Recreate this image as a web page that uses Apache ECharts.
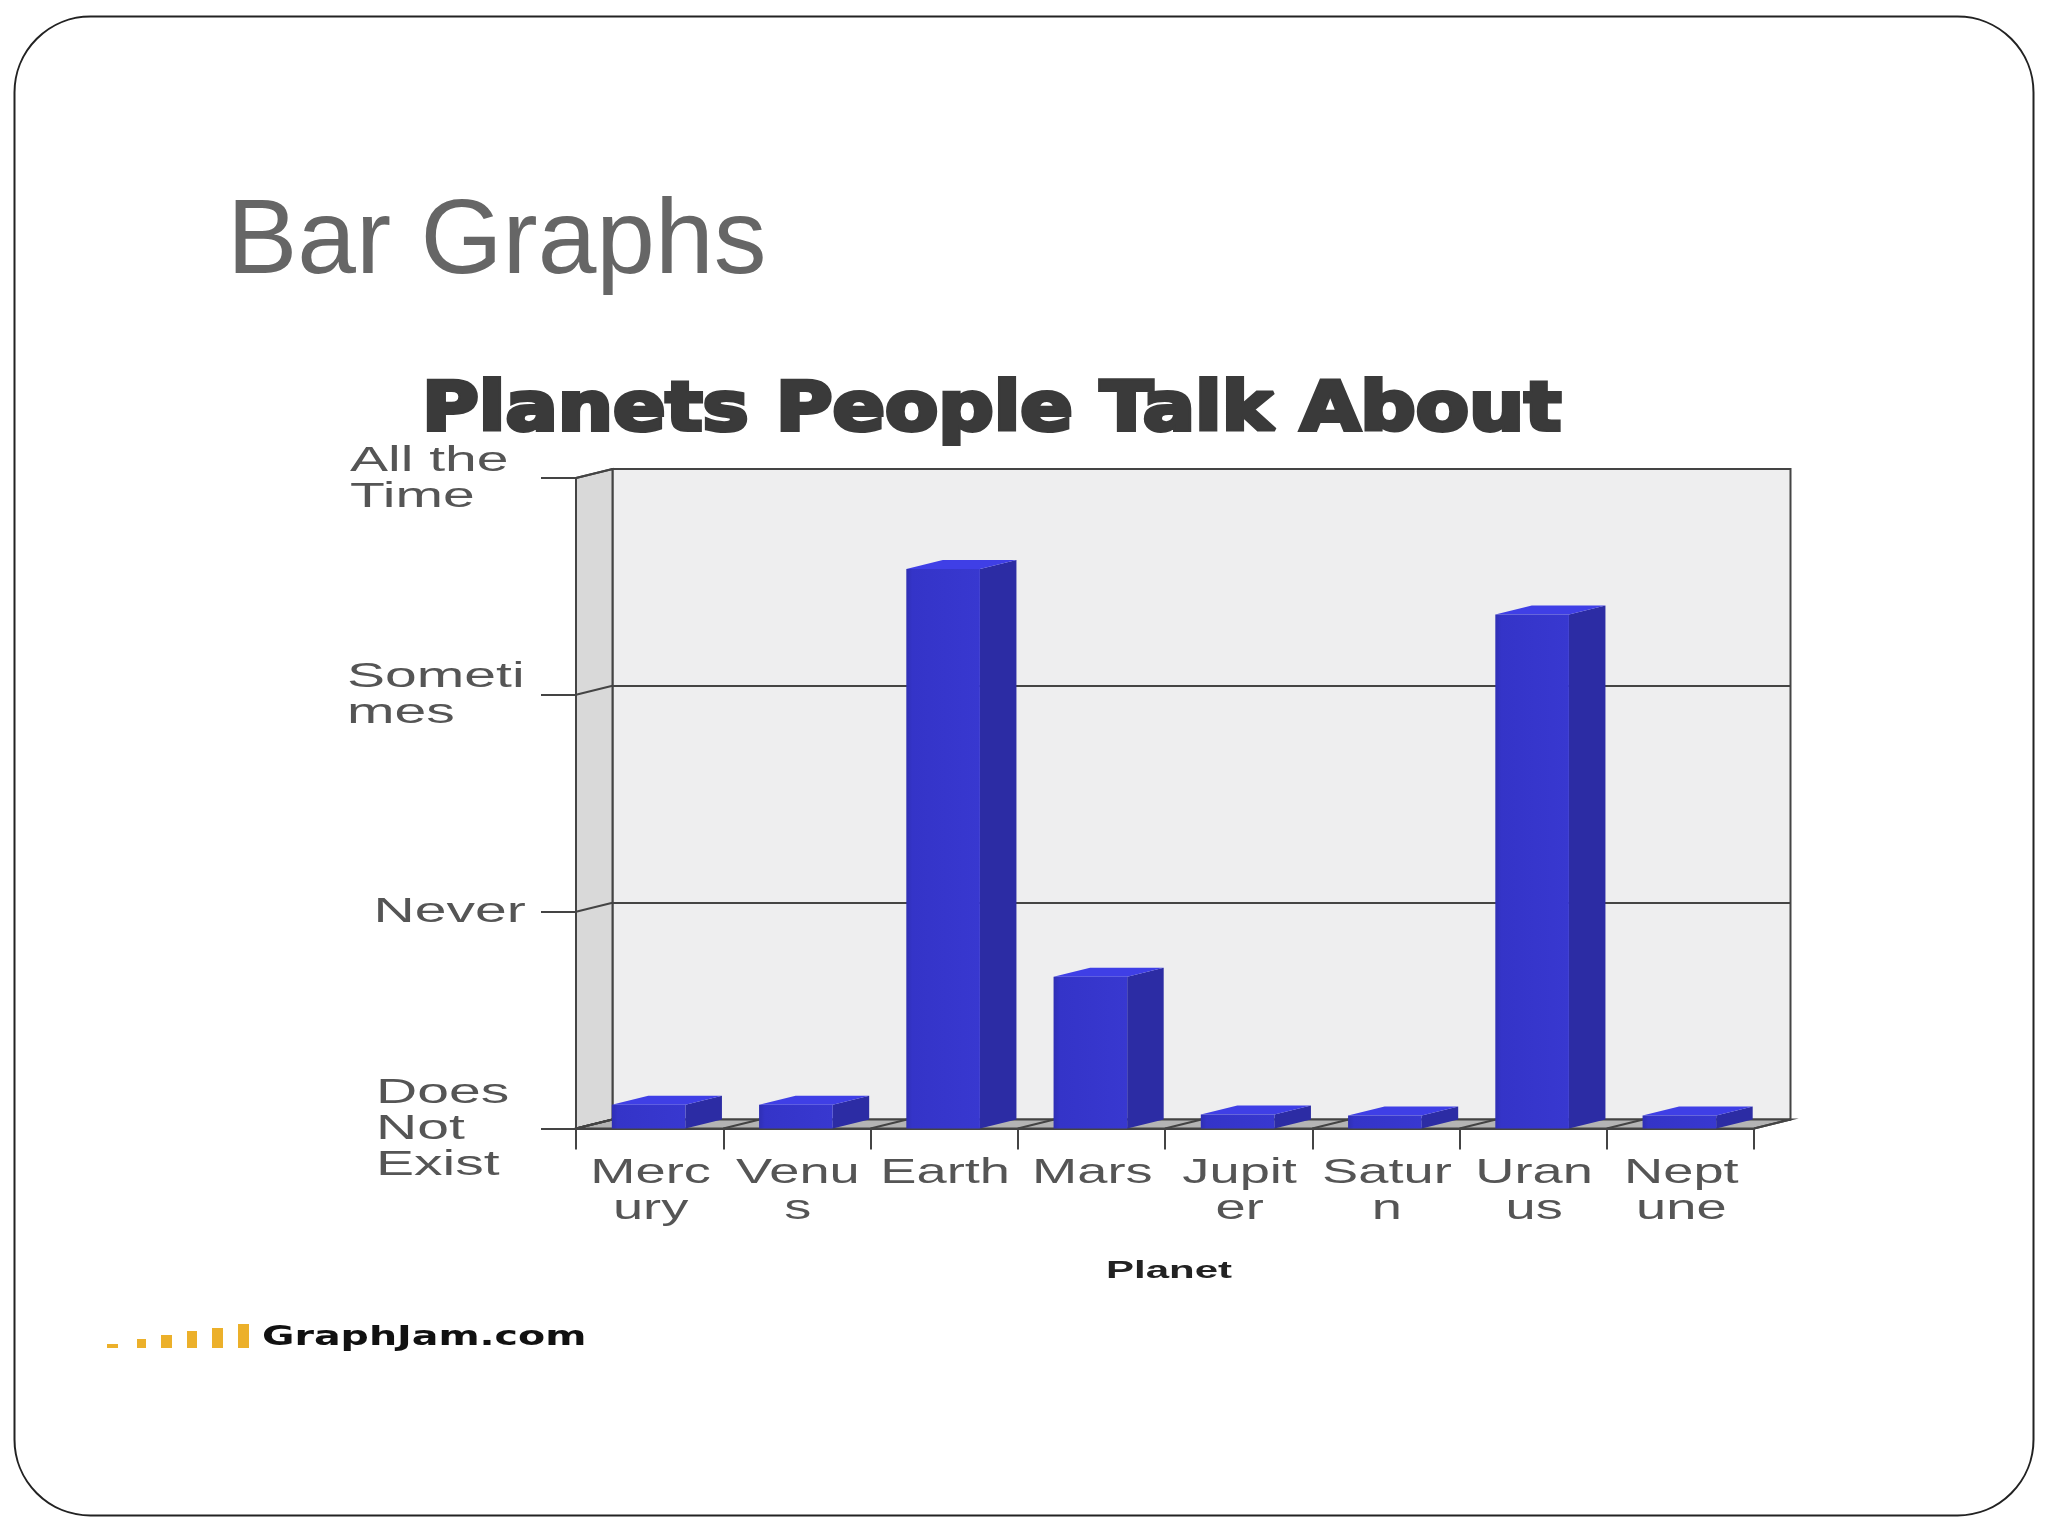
<!DOCTYPE html>
<html>
<head>
<meta charset="utf-8">
<style>html,body{margin:0;padding:0;background:#fff}#c{width:2048px;height:1536px}</style>
<script src="https://cdn.jsdelivr.net/npm/echarts@6/dist/echarts.min.js"></script>
</head>
<body>
<div id="c"></div>
<script>
const slideTitle = 'Bar Graphs';
const chartTitle = 'Planets People Talk About';
const xName = 'Planet';
const logoText = 'GraphJam.com';
const planets = ['Merc\nury','Venu\ns','Earth','Mars','Jupit\ner','Satur\nn','Uran\nus','Nept\nune'];
const mentions = [0.11,0.11,2.58,0.70,0.065,0.06,2.37,0.06];
const yTicks = [0,1,2,3];
const yTickLabels = ['Does\nNot\nExist','Never','Someti\nmes','All the\nTime'];
const logoBars = [4,9,13,17,20,24];

// layout
const G = {left:576, top:478, width:1178, height:650.5};
const DX = 36.5, DY = 9;
const LBL = {font:'"Liberation Sans",Arial,sans-serif', size:35, color:'#555', lh:36};
const yLabelLeft = [376,373.5,347,350];
const INK = '#444';

const chart = echarts.init(document.getElementById('c'), null, {renderer:'canvas'});

function wallsItem(params){
  const c = params.coordSys;
  const L=c.x, R=c.x+c.width, T=c.y, B=c.y+c.height;
  const kids = [
    {type:'polygon',shape:{points:[[L,T],[L+DX,T-DY],[L+DX,B-DY],[L,B]]},style:{fill:'#d9d9d9',stroke:INK,lineWidth:2}},
    {type:'polygon',shape:{points:[[L,B],[L+DX,B-DY],[R+DX,B-DY],[R,B]]},style:{fill:'#b4b4b4',stroke:INK,lineWidth:2}}
  ];
  for(const t of yTicks){
    const y = chart.convertToPixel({yAxisIndex:0},t);
    kids.push({type:'line',shape:{x1:L,y1:y,x2:L+DX,y2:y-DY},style:{stroke:INK,lineWidth:2}});
  }
  const step=c.width/planets.length;
  for(let i=0;i<=planets.length;i++){
    const x=L+i*step;
    kids.push({type:'line',shape:{x1:x,y1:B,x2:x+DX,y2:B-DY},style:{stroke:INK,lineWidth:2}});
  }
  return {type:'group',children:kids};
}
function barItem(params,api){
  const i=api.value(0), v=api.value(1);
  const top=api.coord([i,v]), base=api.coord([i,0]);
  const w=api.size([1,0])[0]*0.5;
  const l=top[0]-w/2-1, r=l+w, t=top[1], b=base[1];
  return {type:'group',children:[
    {type:'polygon',shape:{points:[[r,t],[r+DX,t-DY],[r+DX,b-DY],[r,b]]},style:{fill:'#2c2ca4'}},
    {type:'polygon',shape:{points:[[l,t],[l+DX,t-DY],[r+DX,t-DY],[r,t]]},style:{fill:'#3f3fe6'}},
    {type:'rect',shape:{x:l,y:t,width:w,height:b-t},style:{fill:new echarts.graphic.LinearGradient(0,0,1,0,[
      {offset:0,color:'#2f2fb4'},{offset:0.08,color:'#3434c8'},{offset:1,color:'#3838d0'}])}}
  ]};
}
function lineTexts(text,x,y0,align,scale){
  return text.split('\n').map((s,k)=>({type:'text',x:x,y:y0+k*LBL.lh,scaleX:scale,
    style:{text:s,fontFamily:LBL.font,fontSize:LBL.size,fill:LBL.color,align:align,verticalAlign:'middle'}}));
}
function yLabelItem(params,api){
  const idx=api.value(0), v=api.value(1);
  const p=api.coord([0,v]);
  const n=yTickLabels[idx].split('\n').length;
  return {type:'group',children:lineTexts(yTickLabels[idx],yLabelLeft[idx],p[1]+1-(n-1)*LBL.lh/2,'left',1.63)};
}
function xLabelItem(params,api){
  const i=api.value(0);
  const p=api.coord([i,0]);
  return {type:'group',children:lineTexts(planets[i],p[0]+1,1173,'center',1.55)};
}

const logoGraphic = logoBars.map((h,i)=>({type:'rect',
  shape:{x:[107,137,161,187,212,238][i],y:1348-h,width:[11,9,11,10,11,11][i],height:h},
  style:{fill:'#ecb02a'}}));

chart.setOption({
  animation:false,
  backgroundColor:'#ffffff',
  title:[
    {text:slideTitle,left:222,top:186,textStyle:{fontFamily:'"Liberation Sans",Arial,sans-serif',fontSize:105.5,fontWeight:'normal',color:'#666666'}}
  ],
  grid:[
    {left:G.left,top:G.top,width:G.width,height:G.height,containLabel:false},
    {left:G.left+DX,top:G.top-DY,width:G.width,height:G.height,show:true,backgroundColor:'#eeeeef',borderColor:INK,borderWidth:2}
  ],
  xAxis:[
    {type:'category',gridIndex:0,data:planets,z:2,
      axisLine:{show:true,lineStyle:{color:INK,width:2}},
      axisTick:{show:true,length:21,alignWithLabel:false,lineStyle:{color:INK,width:2}},
      axisLabel:{show:false},splitLine:{show:false}},
    {type:'category',gridIndex:1,data:planets,show:false}
  ],
  yAxis:[
    {type:'value',gridIndex:0,min:0,max:3,interval:1,z:2,
      axisLine:{show:true,lineStyle:{color:INK,width:2}},
      axisTick:{show:true,length:35,lineStyle:{color:INK,width:2}},
      axisLabel:{show:false},splitLine:{show:false}},
    {type:'value',gridIndex:1,min:0,max:3,interval:1,
      axisLine:{show:false},axisTick:{show:false},axisLabel:{show:false},
      splitLine:{show:true,lineStyle:{color:INK,width:2}}}
  ],
  series:[
    {type:'custom',name:'walls',xAxisIndex:0,yAxisIndex:0,z:1,silent:true,clip:false,data:[[0,0]],encode:{x:0,y:1},renderItem:wallsItem},
    {type:'custom',name:'Mentions',xAxisIndex:0,yAxisIndex:0,z:4,clip:false,
      data:mentions.map((v,i)=>[i,v]),encode:{x:0,y:1},renderItem:barItem},
    {type:'custom',name:'yLabels',xAxisIndex:0,yAxisIndex:0,z:5,silent:true,clip:false,
      data:yTicks.map((t,i)=>[i,t]),encode:{y:1},renderItem:yLabelItem},
    {type:'custom',name:'xLabels',xAxisIndex:0,yAxisIndex:0,z:5,silent:true,clip:false,
      data:planets.map((p,i)=>[i,0]),encode:{x:0,y:1},renderItem:xLabelItem}
  ],
  graphic:[
    {type:'rect',silent:true,z:-10,shape:{x:14.5,y:16.5,width:2019,height:1499,r:76},style:{fill:'none',stroke:'#222',lineWidth:2}},
    {type:'text',x:422,y:412,scaleX:1.14,z:10,style:{text:chartTitle,fontFamily:'"DejaVu Sans",sans-serif',fontWeight:'bold',fontSize:68,fill:'#3a3a3a',stroke:'#3a3a3a',lineWidth:4,align:'left',verticalAlign:'middle'}},
    {type:'text',x:1169,y:1271,scaleX:1.75,z:10,style:{text:xName,fontFamily:'"Liberation Sans",Arial,sans-serif',fontWeight:'bold',fontSize:24,fill:'#222',align:'center',verticalAlign:'middle'}},
    {type:'text',x:262,y:1338,scaleX:1.52,z:10,style:{text:logoText,fontFamily:'"DejaVu Sans",sans-serif',fontWeight:'bold',fontSize:26,fill:'#111',align:'left',verticalAlign:'middle'}}
  ].concat(logoGraphic)
});
</script>
</body>
</html>
